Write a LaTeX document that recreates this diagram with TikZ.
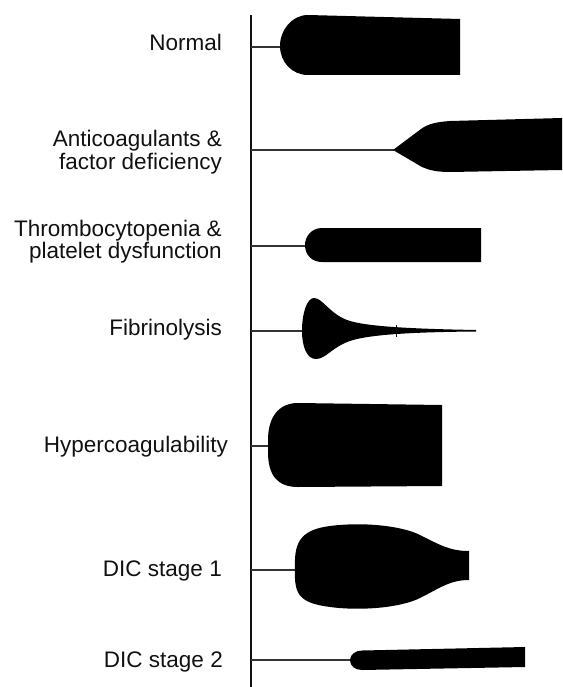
\documentclass[tikz,border=0pt]{standalone}
\usepackage{fontspec}
\setmainfont{Liberation Sans}
\definecolor{ink}{HTML}{111111}
\definecolor{lead}{HTML}{333333}
\begin{document}
\begin{tikzpicture}[x=1pt,y=-1pt,
  lbl/.style={font=\fontsize{22.5}{22}\selectfont, text=ink, align=right, anchor=base east, inner sep=0pt},
  lead/.style={draw=lead, line width=1.1pt},
  blob/.style={fill=black, draw=none}]
\useasboundingbox (0,0) rectangle (562,687);
% axis
\coordinate (axtop) at (251,15);
\coordinate (axbot) at (251,687);
\draw[line width=2pt, ink] (axtop) -- (axbot);

% labels
\node[lbl] (lnormal) at (222,51) {Normal};
\node[lbl] (lanti) at (222,169) {Anticoagulants \&\\factor deficiency};
\node[lbl] (lthromb) at (222,258) {Thrombocytopenia \&\\platelet dysfunction};
\node[lbl] (lfib) at (222,335) {Fibrinolysis};
\node[lbl] (lhyper) at (228,452) {Hypercoagulability};
\node[lbl] (ldic1) at (222,576) {DIC stage 1};
\node[lbl] (ldic2) at (223,667) {DIC stage 2};

% lead lines
\coordinate (a1) at (251,47);  \coordinate (s1) at (282,47);
\coordinate (a2) at (251,150); \coordinate (s2) at (394,150);
\coordinate (a3) at (251,246); \coordinate (s3) at (306,246);
\coordinate (a4) at (251,331); \coordinate (s4) at (303,331);
\coordinate (a5) at (251,446); \coordinate (s5) at (269,446);
\coordinate (a6) at (251,570); \coordinate (s6) at (296,570);
\coordinate (a7) at (251,660); \coordinate (s7) at (351,660);
\foreach \i in {1,...,7} {\draw[lead] (a\i) -- (s\i);}

% Normal
\fill[blob] (460,19) -- (308,15) .. controls (292,15) and (280,30) .. (280,46)
  .. controls (280,62) and (292,75) .. (308,75) -- (460,75) -- cycle;
% Anticoagulants
\fill[blob] (393,150) -- (421,129) .. controls (428,124) and (436,122) .. (450,121)
  -- (562,118) -- (562,170) -- (450,172) .. controls (436,172) and (429,170) .. (422,167) -- cycle;
% Thrombocytopenia
\fill[blob] (481,228) -- (322,228) .. controls (312,228) and (305,236) .. (305,245)
  .. controls (305,255) and (312,262) .. (322,262) -- (481,262) -- cycle;
% Fibrinolysis
\fill[blob] (302,331) .. controls (302,313) and (307,298) .. (314,298)
  .. controls (323,298) and (330,315) .. (350,321)
  .. controls (370,327) and (420,329) .. (476,330) -- (476,331.5)
  .. controls (420,332) and (370,334) .. (350,341)
  .. controls (332,347) and (326,359) .. (316,359)
  .. controls (307,359) and (302,347) .. (302,331) -- cycle;
\coordinate (tk1) at (396,325); \coordinate (tk2) at (396,337);
\draw[line width=0.8pt, ink] (tk1) -- (tk2);
% Hypercoagulability
\fill[blob] (442,405) -- (298,403) .. controls (278,403) and (268,418) .. (268,440)
  -- (268,452) .. controls (268,476) and (278,487) .. (298,487) -- (442,486) -- cycle;
% DIC stage 1
\fill[blob] (295,570) .. controls (294,545) and (298,530) .. (330,526)
  .. controls (360,522) and (400,525) .. (420,535)
  .. controls (440,545) and (450,551) .. (469,551) -- (469,580)
  .. controls (450,580) and (440,588) .. (420,598)
  .. controls (400,608) and (360,611) .. (330,607)
  .. controls (300,603) and (294,595) .. (295,570) -- cycle;
% DIC stage 2
\fill[blob] (525,647) -- (362,650.5) .. controls (355,650.5) and (350,655) .. (350,660)
  .. controls (350,666) and (355,670) .. (362,670) -- (525,667) -- cycle;
\end{tikzpicture}
\end{document}
